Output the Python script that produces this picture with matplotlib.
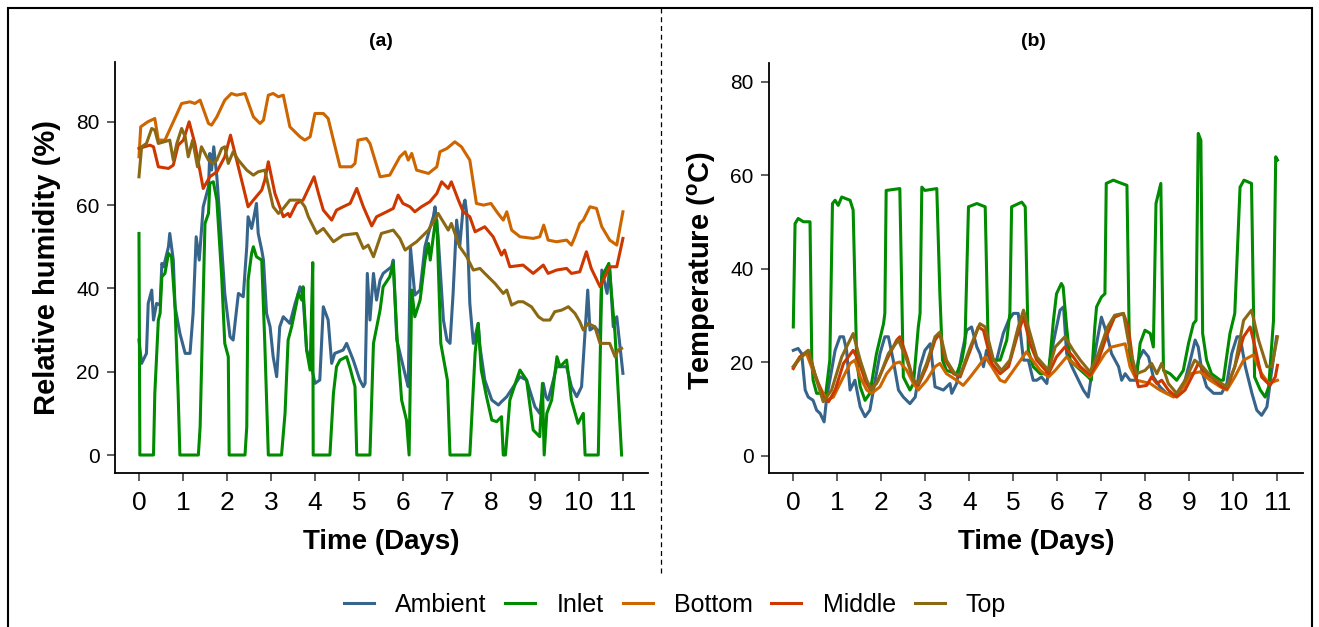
import numpy as np
import matplotlib.pyplot as plt
from matplotlib.patches import Rectangle
from matplotlib.lines import Line2D

plt.rcParams['font.family'] = ['Liberation Sans', 'DejaVu Sans']
plt.rcParams['mathtext.fontset'] = 'custom'
plt.rcParams['mathtext.rm'] = 'Liberation Sans'
plt.rcParams['mathtext.bf'] = 'Liberation Sans:bold'

labels = ['Ambient', 'Inlet', 'Bottom', 'Middle', 'Top']
colors = ['#36648B', '#008B00', '#CD6600', '#CD3700', '#8B6914']
days = list(range(12))

# (day, relative humidity %)
rh_ambient = [(0.0, 27.6), (0.06, 22), (0.17, 24.4), (0.21, 36.4), (0.29, 39.6), (0.33, 32.4), (0.40, 36.4),
              (0.48, 36), (0.52, 46), (0.56, 45.2), (0.67, 50), (0.70, 53.2), (0.78, 46.8), (0.82, 35.6),
              (0.93, 29.2), (1.05, 24.4), (1.16, 24.4), (1.23, 34), (1.30, 52.4), (1.37, 46.8), (1.46, 59.6),
              (1.58, 64.4), (1.61, 72.4), (1.65, 68.4), (1.70, 74), (1.77, 66.8), (1.84, 56.4), (1.95, 38.8),
              (2.07, 28.4), (2.14, 27.6), (2.26, 38.8), (2.37, 38), (2.45, 50), (2.48, 57.2), (2.56, 54.4),
              (2.60, 56.4), (2.67, 60.4), (2.71, 53.2), (2.79, 49.2), (2.83, 46.8), (2.90, 34), (2.98, 30.8),
              (3.05, 23.6), (3.13, 18.8), (3.20, 30.8), (3.28, 33.2), (3.43, 31.6), (3.55, 36.4), (3.62, 38.8),
              (3.66, 40.4), (3.73, 38), (3.81, 25.2), (3.89, 22.8), (4.00, 17.2), (4.11, 18), (4.19, 35.6),
              (4.30, 32.4), (4.38, 22), (4.45, 24.4), (4.64, 25.2), (4.72, 26.8), (4.87, 22.8), (5.02, 18),
              (5.10, 16.4), (5.14, 17.2), (5.19, 43.6), (5.25, 32.4), (5.33, 43.6), (5.40, 37.2), (5.48, 42),
              (5.55, 43.6), (5.74, 45.2), (5.78, 46.8), (5.86, 27.6), (5.97, 22.8), (6.08, 18), (6.12, 16.4),
              (6.17, 50), (6.27, 38.4), (6.39, 39.6), (6.50, 50), (6.61, 54.4), (6.69, 57.2), (6.73, 59.6),
              (6.80, 52.4), (6.92, 32.4), (7.00, 27.6), (7.07, 26.8), (7.14, 38.8), (7.22, 56.4), (7.29, 50),
              (7.37, 59.6), (7.41, 61.2), (7.45, 58), (7.52, 36.4), (7.60, 26.8), (7.71, 31.6), (7.75, 26),
              (7.86, 18), (8.02, 13.2), (8.17, 12), (8.24, 12.8), (8.36, 14), (8.51, 16.4), (8.66, 18.8),
              (8.81, 18), (9.00, 11.6), (9.11, 10), (9.19, 17.2), (9.25, 14), (9.30, 13.2), (9.42, 18),
              (9.49, 21.2), (9.72, 21.2), (9.83, 16.4), (9.95, 14), (10.06, 16.4), (10.20, 39.6), (10.25, 30),
              (10.36, 30.8), (10.48, 29.2), (10.52, 44.4), (10.64, 38.8), (10.70, 45.2), (10.78, 30.8),
              (10.86, 33.2), (11.0, 19.6)]
rh_inlet = [(0.0, 53.2), (0.02, 0), (0.33, 0), (0.36, 14.8), (0.44, 32.4), (0.48, 34), (0.52, 42.8), (0.59, 43.6),
            (0.67, 48.4), (0.74, 47.6), (0.82, 35.6), (0.89, 14.8), (0.93, 0), (1.35, 0), (1.39, 6.8), (1.50, 55.6),
            (1.58, 58), (1.61, 65.2), (1.69, 65.6), (1.77, 61.2), (1.88, 42.8), (1.95, 26.8), (2.03, 23.6),
            (2.05, 0), (2.41, 0), (2.45, 6.8), (2.48, 42), (2.56, 48.4), (2.60, 50), (2.67, 47.6), (2.79, 46.8),
            (2.86, 26.8), (2.94, 0), (3.24, 0), (3.32, 10), (3.39, 27.6), (3.47, 30.8), (3.58, 36.4), (3.62, 38.8),
            (3.70, 37.2), (3.73, 40.4), (3.81, 25.2), (3.89, 20.4), (3.95, 46.2), (3.96, 0), (4.34, 0),
            (4.42, 14.8), (4.49, 21.2), (4.57, 22.8), (4.72, 23.6), (4.80, 20.8), (4.91, 16.4), (4.95, 0),
            (5.25, 0), (5.33, 26.8), (5.48, 34.8), (5.55, 40.4), (5.70, 42.8), (5.78, 46), (5.86, 29.2),
            (5.97, 13.2), (6.08, 8.4), (6.14, 0), (6.20, 39.6), (6.27, 33.2), (6.39, 37.2), (6.50, 46.8),
            (6.58, 50.8), (6.62, 46.8), (6.73, 55.6), (6.77, 56.4), (6.86, 26.8), (7.01, 18), (7.07, 0),
            (7.52, 0), (7.64, 24.4), (7.71, 31.6), (7.78, 20.4), (7.90, 14), (8.02, 8.4), (8.13, 8), (8.24, 9.2),
            (8.28, 0), (8.33, 0), (8.43, 13.2), (8.58, 18), (8.66, 20.4), (8.81, 18), (8.96, 6), (9.11, 4.4),
            (9.17, 17.2), (9.21, 0), (9.27, 10), (9.38, 13.2), (9.50, 23.6), (9.57, 21.2), (9.72, 22.8),
            (9.83, 13.2), (9.98, 7.6), (10.10, 10), (10.14, 0), (10.44, 0), (10.52, 42.8), (10.64, 45.2),
            (10.68, 46), (10.82, 29.2), (10.97, 0)]
rh_bottom = [(0.0, 71.6), (0.04, 78.8), (0.20, 80), (0.36, 80.8), (0.44, 75.6), (0.59, 75.6), (0.97, 84.4),
             (1.16, 84.8), (1.27, 84.4), (1.39, 85.2), (1.58, 79.6), (1.65, 79.2), (1.77, 81.2), (1.95, 85.2),
             (2.10, 86.8), (2.22, 86.4), (2.41, 86.8), (2.60, 81.2), (2.75, 79.6), (2.83, 80.4), (2.94, 86.4),
             (3.05, 86.8), (3.17, 86), (3.28, 86.4), (3.43, 78.8), (3.66, 76.4), (3.77, 75.6), (3.89, 76.4),
             (4.00, 82), (4.19, 82), (4.30, 80.8), (4.42, 75.6), (4.57, 69.2), (4.83, 69.2), (4.91, 70),
             (4.98, 75.6), (5.17, 76), (5.25, 74.8), (5.48, 66.8), (5.70, 67.2), (5.93, 71.6), (6.05, 72.8),
             (6.12, 70.8), (6.20, 72.4), (6.31, 68.4), (6.58, 67.6), (6.77, 69.2), (6.84, 72.8), (7.00, 73.6),
             (7.18, 75.2), (7.33, 74), (7.52, 70.8), (7.67, 60.4), (7.83, 60), (8.00, 60.4), (8.16, 58),
             (8.28, 56.4), (8.36, 58.4), (8.47, 54), (8.66, 52.4), (8.96, 52), (9.11, 52.4), (9.20, 55.2),
             (9.30, 51.6), (9.49, 51.2), (9.72, 51.6), (9.83, 50.4), (9.91, 52.4), (10.02, 55.6), (10.10, 56.4),
             (10.25, 59.6), (10.40, 59.2), (10.52, 54.8), (10.70, 51.6), (10.86, 50.4), (11.0, 58.4)]
rh_middle = [(0.0, 73.6), (0.25, 74.4), (0.33, 74), (0.44, 69.2), (0.67, 68.8), (0.78, 69.6), (0.89, 74.4),
             (1.01, 75.6), (1.14, 80), (1.27, 74.8), (1.46, 64), (1.61, 66.8), (1.77, 68), (1.95, 71.6),
             (2.08, 76.8), (2.22, 70.8), (2.37, 64.4), (2.48, 59.6), (2.60, 61.2), (2.79, 63.6), (2.86, 66),
             (2.94, 70.4), (3.09, 62.8), (3.28, 57.2), (3.39, 58), (3.43, 57.2), (3.58, 60.4), (3.73, 61.2),
             (3.98, 66.8), (4.08, 62.8), (4.19, 58.8), (4.38, 56.4), (4.49, 58.8), (4.64, 59.6), (4.80, 60.4),
             (4.95, 64), (5.10, 59.6), (5.29, 55), (5.40, 57.2), (5.63, 58.4), (5.78, 59.2), (5.89, 62.4),
             (6.00, 60.4), (6.16, 59.6), (6.27, 58.4), (6.42, 59.6), (6.61, 60.8), (6.77, 62.8), (6.88, 65.6),
             (7.03, 64), (7.10, 65.6), (7.26, 61.2), (7.37, 58.4), (7.52, 57.2), (7.64, 53.6), (7.86, 54.8),
             (8.05, 52.4), (8.24, 48), (8.31, 49.2), (8.43, 45.2), (8.73, 45.6), (8.96, 43.6), (9.19, 45.6),
             (9.30, 43.6), (9.49, 44.4), (9.72, 44.8), (9.83, 43.6), (10.02, 44), (10.17, 48.8), (10.28, 44.8),
             (10.48, 40.4), (10.70, 45.2), (10.86, 45.2), (11.0, 52)]
rh_top = [(0.0, 66.8), (0.06, 74), (0.17, 74.8), (0.29, 78.4), (0.36, 78), (0.44, 74.8), (0.70, 75.6), (0.78, 70.8),
          (0.86, 74.8), (0.97, 78.4), (1.05, 76.4), (1.12, 71.6), (1.22, 75.6), (1.33, 69.2), (1.42, 74),
          (1.58, 70.8), (1.69, 70), (1.77, 70.8), (1.88, 73.6), (1.95, 74), (2.03, 70), (2.14, 72.8), (2.26, 70.8),
          (2.45, 68.4), (2.60, 67.2), (2.71, 68), (2.86, 68.4), (3.05, 59.6), (3.17, 58), (3.28, 59.2),
          (3.43, 61.2), (3.66, 61.2), (3.77, 59.6), (3.85, 57.2), (4.04, 53.2), (4.19, 54.4), (4.42, 51.2),
          (4.64, 52.8), (4.95, 53.2), (5.10, 49.6), (5.21, 50.4), (5.33, 47.6), (5.51, 53.2), (5.78, 54),
          (5.93, 52), (6.05, 49.2), (6.20, 50.4), (6.31, 51.2), (6.58, 54), (6.80, 58), (7.03, 54), (7.10, 55.6),
          (7.29, 50), (7.45, 47.6), (7.60, 44.4), (7.75, 44.8), (7.86, 43.6), (8.09, 41.2), (8.28, 38.8),
          (8.36, 39.6), (8.47, 36), (8.62, 36.8), (8.73, 36.8), (8.92, 35.6), (9.08, 33.2), (9.19, 32.4),
          (9.34, 32.4), (9.45, 34.4), (9.61, 34.8), (9.76, 35.6), (9.91, 34), (10.02, 32), (10.10, 30),
          (10.21, 31.6), (10.36, 30.8), (10.48, 26.8), (10.70, 26.8), (10.82, 23.6), (10.89, 25.2), (10.97, 25.6)]

# (day, temperature degC)
t_ambient = [(0.0, 22.5), (0.11, 22.9), (0.19, 21.8), (0.27, 14), (0.34, 12.5), (0.45, 11.8), (0.53, 9.7),
             (0.61, 9), (0.70, 7.2), (0.76, 12.5), (0.83, 16.1), (0.95, 22.5), (1.06, 25.4), (1.14, 25.4),
             (1.21, 22.5), (1.29, 14), (1.40, 16.1), (1.52, 10.4), (1.63, 8.3), (1.74, 9.7), (1.86, 16.1),
             (1.97, 21.8), (2.08, 25.4), (2.16, 25.4), (2.27, 20.4), (2.39, 14), (2.50, 12.5), (2.65, 11.1),
             (2.77, 12.5), (2.88, 19), (2.99, 22.5), (3.11, 23.9), (3.22, 14.7), (3.41, 14), (3.56, 15.4),
             (3.60, 13.3), (3.71, 15.4), (3.83, 21.8), (3.94, 26.8), (4.05, 27.5), (4.17, 23.2), (4.24, 21.8),
             (4.32, 19), (4.39, 22.5), (4.47, 20.4), (4.62, 20.4), (4.77, 26.1), (4.89, 28.9), (5.00, 30.4),
             (5.11, 30.4), (5.23, 20.4), (5.34, 20.4), (5.45, 16.1), (5.53, 16.1), (5.64, 16.8), (5.76, 15.4),
             (5.83, 20.4), (5.95, 26.1), (6.06, 31.1), (6.14, 31.8), (6.21, 21.8), (6.33, 19), (6.48, 16.1),
             (6.59, 14), (6.70, 12.5), (6.78, 17.5), (6.89, 23.9), (7.00, 29.6), (7.12, 26.1), (7.23, 21.8),
             (7.39, 19), (7.46, 16.1), (7.54, 17.5), (7.65, 16.1), (7.77, 16.1), (7.84, 20.4), (7.95, 22.5),
             (8.07, 21.1), (8.18, 16.8), (8.33, 14.7), (8.48, 13.3), (8.71, 12.9), (8.86, 14.7), (9.02, 20.4),
             (9.13, 24.7), (9.20, 23.2), (9.28, 18.2), (9.39, 14.7), (9.55, 13.3), (9.73, 13.3), (9.85, 15.4),
             (9.96, 21.8), (10.08, 25.4), (10.15, 25.4), (10.27, 19), (10.42, 13.3), (10.53, 9.7), (10.64, 8.6),
             (10.76, 10.4), (10.87, 18.2), (10.98, 25.4)]
t_inlet = [(0.0, 27.5), (0.04, 49.6), (0.11, 50.7), (0.23, 50), (0.38, 50), (0.42, 20.4), (0.45, 16.1), (0.53, 13.3),
           (0.68, 13.3), (0.72, 11.8), (0.83, 20.4), (0.89, 53.9), (0.95, 54.6), (1.02, 53.5), (1.10, 55.3),
           (1.29, 54.6), (1.36, 52.5), (1.44, 20.4), (1.52, 14.7), (1.63, 11.8), (1.74, 13.3), (1.89, 21.8),
           (2.05, 28.2), (2.08, 30.4), (2.11, 56.7), (2.42, 57.1), (2.50, 16.8), (2.65, 14), (2.73, 15.4),
           (2.84, 27.5), (2.88, 30.4), (2.92, 57.4), (2.99, 56.7), (3.26, 57.1), (3.33, 34.6), (3.39, 20.4),
           (3.48, 18.2), (3.71, 17.5), (3.83, 20.4), (3.90, 24), (3.98, 53.2), (4.17, 53.9), (4.36, 53.2),
           (4.43, 22.5), (4.51, 20.4), (4.70, 20.4), (4.85, 24.7), (4.92, 30.4), (4.96, 53.2), (5.19, 54.2),
           (5.27, 53.2), (5.34, 22.5), (5.45, 19), (5.61, 17.5), (5.80, 17.5), (5.91, 28.9), (5.98, 34.6),
           (6.09, 36.8), (6.13, 36.1), (6.21, 27.5), (6.29, 20.4), (6.44, 19), (6.70, 16.8), (6.77, 16.1),
           (6.85, 27.5), (6.89, 31.8), (7.00, 33.9), (7.08, 34.6), (7.11, 58.2), (7.27, 58.9), (7.46, 58.2),
           (7.58, 57.8), (7.64, 20.4), (7.80, 16.8), (7.88, 24), (7.99, 26.8), (8.11, 26.1), (8.18, 23.2),
           (8.24, 53.9), (8.35, 58.2), (8.41, 18.2), (8.56, 17.5), (8.71, 16.1), (8.86, 18.2), (8.98, 24),
           (9.09, 28.2), (9.15, 28.9), (9.20, 68.9), (9.26, 67.4), (9.30, 26.1), (9.39, 20.4), (9.50, 17.5),
           (9.70, 16.1), (9.77, 16.1), (9.92, 26.1), (10.03, 30.4), (10.15, 57.4), (10.24, 58.9), (10.41, 58.2),
           (10.48, 16.8), (10.61, 14), (10.72, 12.5), (10.80, 14.7), (10.91, 28.9), (10.96, 63.9), (11.0, 63.2)]
t_bottom = [(0.0, 19), (0.15, 21.1), (0.30, 21.8), (0.53, 16.1), (0.76, 11.8), (0.91, 12.5), (1.10, 16.1),
            (1.29, 19.7), (1.40, 20.4), (1.52, 16.8), (1.67, 14), (1.78, 13.3), (1.97, 14.7), (2.12, 17.5),
            (2.31, 19.7), (2.42, 20), (2.58, 18.2), (2.73, 15.4), (2.84, 14), (3.03, 16.1), (3.22, 19),
            (3.33, 19.7), (3.48, 17.5), (3.71, 16.1), (3.86, 15), (4.02, 16.8), (4.20, 19), (4.36, 21.1),
            (4.51, 19), (4.70, 16.1), (4.81, 15.7), (5.00, 18.2), (5.30, 22.2), (5.38, 21.1), (5.61, 18.2),
            (5.80, 16.8), (5.95, 18.2), (6.21, 21.1), (6.36, 19.7), (6.59, 18.2), (6.74, 16.8), (6.89, 19),
            (7.08, 21.8), (7.23, 23.2), (7.54, 23.9), (7.65, 19), (7.80, 16.1), (8.11, 15.4), (8.33, 14),
            (8.64, 12.5), (8.86, 14.7), (9.02, 17.5), (9.24, 17.9), (9.47, 16.1), (9.70, 14.7), (9.85, 14),
            (10.03, 16.8), (10.23, 20.4), (10.45, 21.5), (10.64, 17.5), (10.80, 15.4), (11.0, 16.1)]
t_middle = [(0.0, 18.6), (0.15, 21.1), (0.34, 22.5), (0.49, 17.5), (0.68, 12.5), (0.80, 11.5), (0.95, 14),
            (1.14, 19.7), (1.36, 22.5), (1.48, 20.4), (1.63, 16.1), (1.74, 14.3), (1.89, 15.4), (2.12, 20.4),
            (2.35, 24.7), (2.42, 25.4), (2.58, 21.1), (2.73, 16.1), (2.84, 15), (3.03, 19), (3.22, 24.7),
            (3.33, 26.1), (3.45, 20.4), (3.64, 17.5), (3.79, 16.8), (4.02, 22.5), (4.20, 27.5), (4.32, 26.8),
            (4.51, 19.7), (4.70, 17.5), (4.89, 19), (5.08, 25.4), (5.23, 29.6), (5.38, 23.9), (5.53, 20.4),
            (5.80, 17.5), (5.98, 21.1), (6.17, 23.2), (6.36, 21.1), (6.52, 19), (6.74, 17.2), (6.93, 20.4),
            (7.14, 26.1), (7.30, 29.6), (7.50, 30.4), (7.61, 27.5), (7.73, 19), (7.84, 14.7), (8.03, 15),
            (8.14, 16.8), (8.26, 15.4), (8.37, 16.1), (8.52, 14), (8.71, 12.5), (8.90, 14), (9.09, 17.5),
            (9.20, 19.7), (9.39, 17.5), (9.58, 16.1), (9.73, 14.7), (9.85, 14.3), (10.03, 19), (10.23, 25.4),
            (10.38, 27.5), (10.49, 23.2), (10.64, 16.8), (10.83, 15), (10.95, 16.8), (11.0, 19.3)]
t_top = [(0.0, 19), (0.15, 20.7), (0.34, 22.5), (0.53, 16.1), (0.68, 11.5), (0.87, 14), (1.10, 21.1), (1.36, 26.1),
         (1.52, 20.4), (1.67, 16.1), (1.78, 14), (1.93, 16.1), (2.16, 21.8), (2.39, 24.7), (2.58, 20.4),
         (2.73, 16.1), (2.84, 15.4), (3.03, 19.7), (3.22, 25.4), (3.33, 26.4), (3.48, 20.4), (3.67, 17.5),
         (3.79, 17.2), (4.02, 23.2), (4.24, 28.2), (4.36, 27.5), (4.55, 20.4), (4.73, 18.2), (4.92, 20.4),
         (5.11, 27.5), (5.23, 31.1), (5.38, 26.1), (5.53, 21.1), (5.80, 18.2), (5.95, 23.2), (6.17, 25.4),
         (6.36, 22.5), (6.52, 20.4), (6.74, 17.9), (6.93, 21.8), (7.14, 27.5), (7.30, 30), (7.50, 30.4),
         (7.65, 22.5), (7.80, 17.5), (7.99, 18.2), (8.14, 19.7), (8.26, 17.5), (8.37, 19.7), (8.52, 15.4),
         (8.71, 13.3), (8.90, 16.1), (9.12, 20.4), (9.30, 19), (9.50, 16.8), (9.73, 15.4), (9.85, 14.7),
         (10.03, 19), (10.23, 28.9), (10.41, 31.1), (10.57, 24.7), (10.76, 19), (10.87, 19), (11.0, 25.4)]

rh_series = [rh_ambient, rh_inlet, rh_bottom, rh_middle, rh_top]
t_series = [t_ambient, t_inlet, t_bottom, t_middle, t_top]

fig = plt.figure(figsize=(13.19, 6.27), dpi=100)
ax1 = fig.add_axes([115 / 1319, 154 / 627, 533 / 1319, 411 / 627])
ax2 = fig.add_axes([769 / 1319, 154 / 627, 534 / 1319, 410 / 627])


def style(ax):
    ax.spines[['top', 'right']].set_visible(False)
    ax.spines[['left', 'bottom']].set_linewidth(1.3)
    ax.tick_params(length=6, width=1.1, direction='out', color='#333333')
    ax.tick_params(axis='x', labelsize=19, pad=7)
    ax.tick_params(axis='y', labelsize=15, pad=5)
    ax.set_xticks(days)
    ax.set_yticks([0, 20, 40, 60, 80])


for data, lab, col in zip(rh_series, labels, colors):
    d = np.array(data)
    ax1.plot(d[:, 0], d[:, 1], color=col, lw=2.2, label=lab)
for data, lab, col in zip(t_series, labels, colors):
    d = np.array(data)
    ax2.plot(d[:, 0], d[:, 1], color=col, lw=2.2)

style(ax1)
style(ax2)
ax1.set_xlim(-0.545, 11.57)
ax1.set_ylim(-4.32, 94.36)
ax2.set_xlim(-0.552, 11.58)
ax2.set_ylim(-3.74, 83.96)

ax1.set_xlabel('Time (Days)', fontsize=20, fontweight='bold')
ax1.set_ylabel('Relative humidity (%)', fontsize=21, fontweight='bold')
ax2.set_xlabel('Time (Days)', fontsize=20, fontweight='bold')
ax2.set_ylabel(r'Temperature ($\mathbf{^{o}}$C)', fontsize=21, fontweight='bold')
ax1.xaxis.set_label_coords(0.5, -0.136)
ax2.xaxis.set_label_coords(0.5, -0.137)
ax1.yaxis.set_label_coords(-0.101, 0.5)
ax2.yaxis.set_label_coords(-0.096, 0.495)

fig.text(381 / 1319, 1 - 42 / 627, '(a)', ha='center', va='center', fontsize=14, fontweight='bold')
fig.text(1033 / 1319, 1 - 42 / 627, '(b)', ha='center', va='center', fontsize=14, fontweight='bold')

# frame round the figure and dashed divider
fig.patches.append(Rectangle((8 / 1319, -0.05), 1304 / 1319, 1.05 - 8 / 627, transform=fig.transFigure,
                             fill=False, lw=1.5, ec='black'))
fig.lines.append(Line2D([661 / 1319, 661 / 1319], [1 - 8 / 627, 1 - 575 / 627], transform=fig.transFigure,
                        color='black', lw=0.9, ls=(0, (4, 3))))

handles, _ = ax1.get_legend_handles_labels()
fig.legend(handles, labels, loc='center', bbox_to_anchor=(675 / 1319, 1 - 605 / 627), ncol=5, frameon=False,
           fontsize=18, handlelength=1.2, handletextpad=0.85, columnspacing=0.75)

fig.savefig('out.png', dpi=100)
